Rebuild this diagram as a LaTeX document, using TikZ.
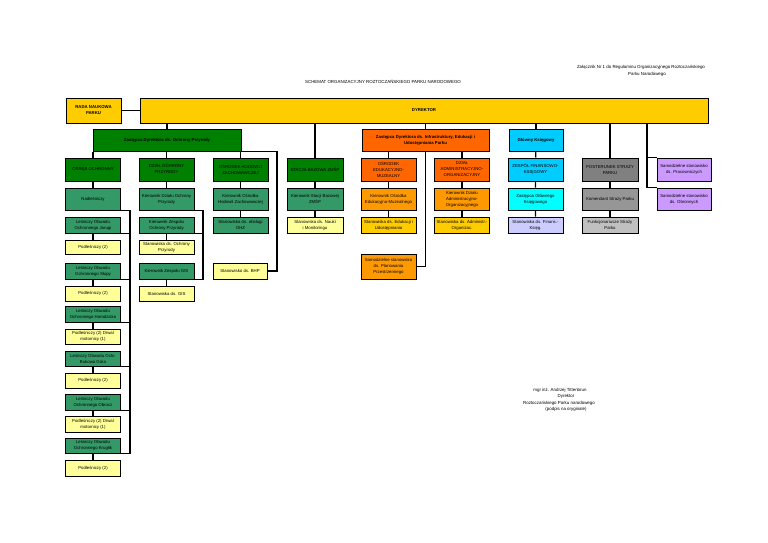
\documentclass[tikz,border=0pt]{standalone}
\usepackage{fontspec}
\setmainfont{Liberation Sans}
\usetikzlibrary{shadows}
\definecolor{yel}{HTML}{FFCC00}
\definecolor{dgreen}{HTML}{008000}
\definecolor{mgreen}{HTML}{339966}
\definecolor{lyel}{HTML}{FFFF99}
\definecolor{orA}{HTML}{FF6600}
\definecolor{orB}{HTML}{FF9900}
\definecolor{goldA}{HTML}{FFCC00}
\definecolor{cyanA}{HTML}{00CCFF}
\definecolor{cyanB}{HTML}{00FFFF}
\definecolor{lav}{HTML}{CCCCFF}
\definecolor{dgray}{HTML}{808080}
\definecolor{mgray}{HTML}{969696}
\definecolor{lgray}{HTML}{C0C0C0}
\definecolor{viol}{HTML}{CC99FF}
\newcommand\mybox[8][]{\node[box,#1,fill=#3,minimum width=#6,minimum height=#7] (#2) at (#4,#5) {#8};}
\begin{document}
\begin{tikzpicture}[x=1pt,y=-1pt,
  box/.style={draw=black,line width=1pt,align=center,inner sep=0.3pt,
    font=\fontsize{4.3}{6}\selectfont,
    drop shadow={shadow xshift=0.8pt,shadow yshift=-0.8pt,fill=black!30}},
  conn/.style={line width=1.2pt,draw=black},
  txt/.style={font=\fontsize{4.4}{6}\selectfont,inner sep=0pt},
  bold/.style={font=\fontsize{4.3}{6}\selectfont\bfseries}]
\useasboundingbox (0,0) rectangle (768,543);
% header texts
\node[txt] (zal1) at (641,67.5) {Załącznik Nr 1 do Regulaminu Organizacyjnego Roztoczańskiego};
\node[txt] (zal2) at (647,74) {Parku Narodowego};
\node[txt] (title) at (383,81.5) {SCHEMAT ORGANIZACYJNY ROZTOCZAŃSKIEGO PARKU NARODOWEGO};
% signature
\node[txt] (s1) at (560,390) {mgr inż. Andrzej Tittenbrun};
\node[txt] (s2) at (566,396.5) {Dyrektor};
\node[txt] (s3) at (559,403) {Roztoczańskiego Parku narodowego};
\node[txt] (s4) at (566,409.5) {(podpis na oryginale)};
% coordinates for spines
\coordinate (spA) at (130,0);
\coordinate (spB) at (203,0);
\coordinate (bhpturn) at (277,271);
\coordinate (spI) at (647,0);
% connectors first (under boxes)
% top level
\mybox[bold]{rada}{yel}{93.5}{110.5}{55}{25}{RADA NAUKOWA\\PARKU}
\mybox[bold]{dyr}{yel}{424}{110.5}{568}{25}{DYREKTOR}
\mybox[bold]{zop}{dgreen}{167}{140}{148}{22}{Zastępca Dyrektora ds. Ochrony Przyrody}
\mybox[bold]{zinf}{orA}{425.5}{140}{127}{22}{Zastępca Dyrektora ds. Infrastruktury, Edukacji i\\Udostępniania Parku}
\mybox[bold]{gk}{cyanA}{536}{140}{54}{22}{Główny Księgowy}
% row 1
\mybox{obreb}{dgreen}{93}{169.5}{55}{23}{OBRĘB OCHRONNY}
\mybox{dop}{dgreen}{166.5}{169.5}{55}{23}{DZIAŁ OCHRONY\\PRZYRODY}
\mybox{ohz}{dgreen}{240.5}{169.5}{55}{23}{OŚRODEK HODOWLI\\ZACHOWAWCZEJ}
\mybox{stacja}{dgreen}{315}{169.5}{56}{23}{STACJA BAZOWA ZMŚP}
\mybox{oem}{orA}{388.5}{169.5}{55}{23}{OŚRODEK\\EDUKACYJNO-\\MUZEALNY}
\mybox{dao}{orA}{462}{169.5}{55}{23}{DZIAŁ\\ADMINISTRACYJNO-\\ORGANIZACYJNY}
\mybox{zfk}{cyanA}{535.5}{169.5}{55}{23}{ZESPÓŁ FINANSOWO-\\KSIĘGOWY}
\mybox{post}{dgray}{610}{169.5}{56}{23}{POSTERUNEK STRAŻY\\PARKU}
\mybox{prac}{viol}{684}{169.5}{54}{23}{Samodzielne stanowisko\\ds. Pracowniczych}
% row 2
\mybox{nadl}{mgreen}{93}{199}{55}{22}{Nadleśniczy}
\mybox{kdop}{mgreen}{166.5}{199}{55}{22}{Kierownik Działu Ochrony\\Przyrody}
\mybox{kohz}{mgreen}{240.5}{199}{55}{22}{Kierownik Ośrodka\\Hodowli Zachowawczej}
\mybox{kst}{mgreen}{315}{199}{56}{22}{Kierownik Stacji Bazowej\\ZMŚP}
\mybox{koem}{orB}{388.5}{199}{55}{22}{Kierownik Ośrodka\\Edukacyjno-Muzealnego}
\mybox{kdao}{orB}{462}{199}{55}{22}{Kierownik Działu\\Administracyjno-\\Organizacyjnego}
\mybox{zgk}{cyanB}{535.5}{199}{55}{22}{Zastępca Głównego\\Księgowego}
\mybox{kom}{mgray}{610}{199}{56}{22}{Komendant Straży Parku}
\mybox{obr}{viol}{684}{199}{54}{22}{Samodzielne stanowisko\\ds. Obronnych}
% row 3
\mybox{jar}{mgreen}{93}{225}{55}{16}{Leśniczy Obwodu\\Ochronnego Jarugi}
\mybox{kzop}{mgreen}{166.5}{225}{55}{16}{Kierownik Zespołu\\Ochrony Przyrody}
\mybox{sohz}{mgreen}{240.5}{225}{55}{16}{Stanowiska ds. obsługi\\OHZ}
\mybox{snau}{lyel}{315}{225}{56}{16}{Stanowiska ds. Nauki\\i Monitoringu}
\mybox{sedu}{goldA}{388.5}{225}{55}{16}{Stanowiska ds. Edukacji i\\Udostępniania}
\mybox{sadm}{goldA}{462}{225}{55}{16}{Stanowiska ds. Administr.-\\Organizac.}
\mybox{sfin}{lav}{535.5}{225}{55}{16}{Stanowiska ds. Finans.-\\Księg.}
\mybox{funk}{lgray}{610}{225}{56}{16}{Funkcjonariusze Straży\\Parku}
% lower boxes
\mybox{p1}{lyel}{93}{247.5}{55}{14}{Podleśniczy (2)}
\mybox{sop}{lyel}{166.5}{247.5}{55}{14}{Stanowiska ds. Ochrony\\Przyrody}
\mybox{slu}{mgreen}{93}{271}{55}{16}{Leśniczy Obwodu\\Ochronnego Słupy}
\mybox{kgis}{mgreen}{166.5}{271}{55}{16}{Kierownik Zespołu GIS}
\mybox{bhp}{lyel}{240}{271}{54}{16}{Stanowisko ds. BHP}
\mybox{plan}{orB}{388.5}{266.5}{55}{25}{Samodzielne stanowisko\\ds. Planowania\\Przestrzennego}
\mybox{p2}{lyel}{93}{293.5}{55}{15}{Podleśniczy (2)}
\mybox{sgis}{lyel}{166.5}{293.5}{55}{15}{Stanowiska ds. GIS}
\mybox{hor}{mgreen}{93}{314}{55}{16}{Leśniczy Obwodu\\Ochronnego Horodzisko}
\mybox{p3}{lyel}{93}{336.5}{55}{15}{Podleśniczy (2)  Drwal\\motornicy (1)}
\mybox{buk}{mgreen}{93}{358.5}{55}{15}{Leśniczy Obwodu Ochr.\\Bukowa Góra}
\mybox{p4}{lyel}{93}{380.5}{55}{15}{Podleśniczy (2)}
\mybox{obroc}{mgreen}{93}{402}{55}{16}{Leśniczy Obwodu\\Ochronnego Obrocz}
\mybox{p5}{lyel}{93}{424}{55}{16}{Podleśniczy (2) Drwal\\motornicy (1)}
\mybox{kru}{mgreen}{93}{445.5}{55}{15}{Leśniczy Obwodu\\Ochronnego Krugłik}
\mybox{p6}{lyel}{93}{468}{55}{16}{Podleśniczy (2)}
% connectors
\begin{scope}[conn]
\draw (rada.east) -- (rada.east -| dyr.west);
\draw (dyr.south -| zop.north) -- (zop.north);
\draw (dyr.south -| stacja.north) -- (stacja.north);
\draw (dyr.south -| zinf.north) -- (zinf.north);
\draw (dyr.south -| gk.north) -- (gk.north);
\draw (dyr.south -| post.north) -- (post.north);
\draw (dyr.south -| spI) -- (obr.north west -| spI) -- (obr.north west);
\draw (prac.north west -| spI) -- (prac.north west);
% Ochrona Przyrody
\draw (obreb.north |- zop.south) -- (obreb.north);
\draw (dop.north |- zop.south) -- (dop.north);
\draw (ohz.north |- zop.south) -- (ohz.north);
\draw (zop.south east) -| (bhpturn) -- (bhp.east);
\draw (obreb) -- (nadl);
\draw (nadl.south east) -- (nadl.south east -| spA) -- (kru.south east -| spA) -- (kru.south east);
\foreach \n in {jar,slu,hor,buk,obroc}{\draw (\n.south east) -- (\n.south east -| spA);}
\foreach \a/\b in {jar/p1,slu/p2,hor/p3,buk/p4,obroc/p5,kru/p6}{\draw (\a) -- (\b);}
\draw (dop) -- (kdop);
\draw (kdop.south east) -- (kdop.south east -| spB) -- (kgis.south east -| spB) -- (kgis.south east);
\draw (kzop.south east) -- (kzop.south east -| spB);
\draw (kzop) -- (sop);
\draw (kgis) -- (sgis);
\draw (ohz) -- (kohz) -- (sohz);
\draw (stacja) -- (kst) -- (snau);
% Infrastruktura
\draw (oem.north |- zinf.south) -- (oem.north);
\draw (dao.north |- zinf.south) -- (dao.north);
\draw (zinf.south) |- (plan.east);
\draw (oem) -- (koem) -- (sedu);
\draw (dao) -- (kdao) -- (sadm);
% Ksiegowy, Straz
\draw (gk) -- (zfk) -- (zgk) -- (sfin);
\draw (post) -- (kom) -- (funk);
\end{scope}
\end{tikzpicture}
\end{document}
